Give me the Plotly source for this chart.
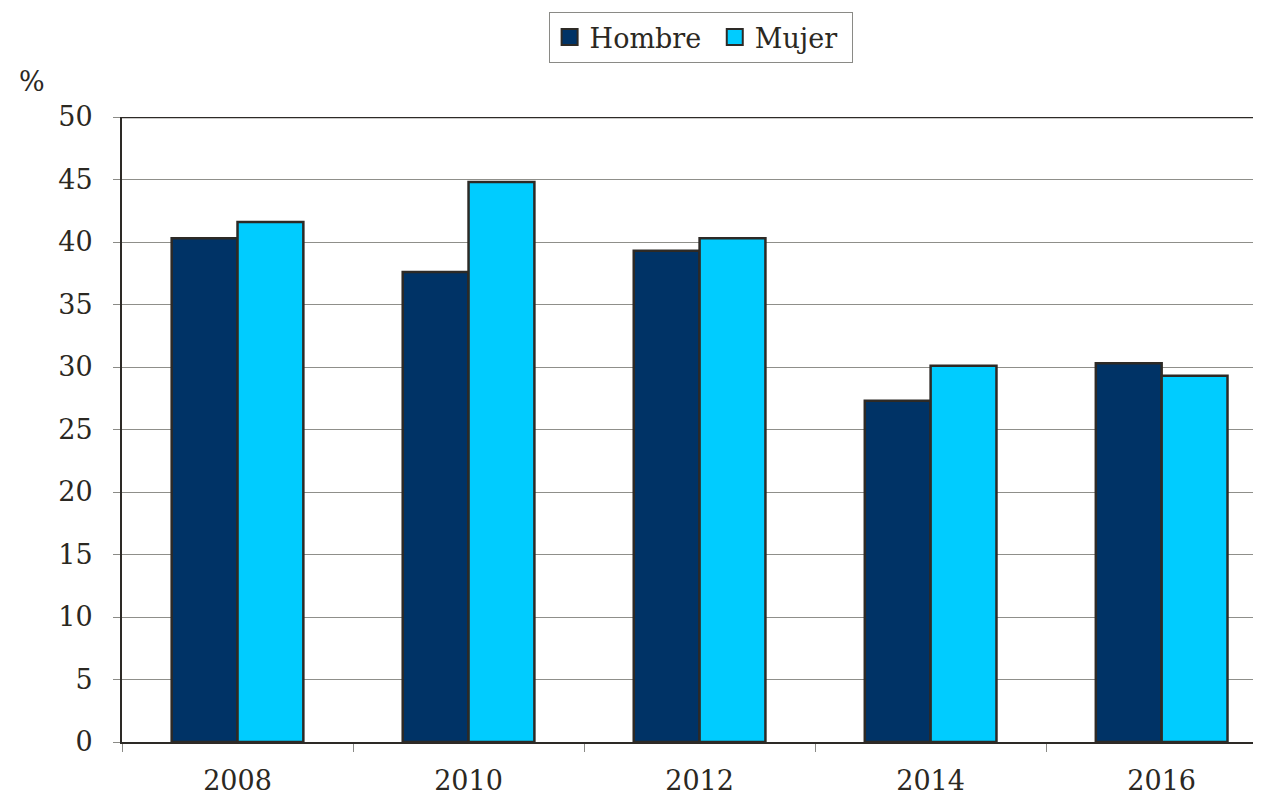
import plotly.graph_objects as go

years = ["2008", "2010", "2012", "2014", "2016"]
hombre = [40.3, 37.6, 39.3, 27.3, 30.3]
mujer = [41.6, 44.8, 40.3, 30.1, 29.3]
series = ["Hombre", "Mujer"]
colors = ["#003366", "#00CCFF"]

FONT = "DejaVu Serif"
FS = 27
TXT = "#2b2822"
EDGE = "#2d2a26"

fig = go.Figure()
for name, vals, col in zip(series, [hombre, mujer], colors):
    fig.add_bar(x=years, y=vals, name=name, showlegend=False,
                marker=dict(color=col, line=dict(color=EDGE, width=2.5)))
for name, col in zip(series, colors):
    fig.add_scatter(x=[years[0]], y=[None], mode="markers", name=name + " ",
                    marker=dict(symbol="square", size=16, color=col, line=dict(color=EDGE, width=2)))

fig.update_layout(
    width=1253, height=790,
    margin=dict(l=114, r=0, t=109, b=56),
    paper_bgcolor="white", plot_bgcolor="white",
    barmode="group", bargap=0.43, bargroupgap=0,
    font=dict(family=FONT, size=FS, color=TXT),
    showlegend=True,
    legend=dict(orientation="h", x=0.508, xanchor="center", y=1.168, yanchor="top",
                bordercolor="#8a8a86", borderwidth=1, bgcolor="white",
                font=dict(family=FONT, size=FS, color=TXT), itemwidth=30, traceorder="normal",
                itemsizing="trace"),
)
fig.update_xaxes(
    type="category", range=[-0.5, 4.43], tickson="boundaries",
    ticks="outside", ticklen=8, tickcolor="#8a8a86", tickwidth=1,
    showline=True, linecolor=EDGE, linewidth=2, showgrid=False,
    tickfont=dict(family=FONT, size=FS, color=TXT), ticklabelstandoff=14,
)
fig.update_yaxes(
    range=[0, 50], dtick=5, ticks="outside", ticklen=7, tickcolor="#8a8a86", tickwidth=1,
    showline=True, linecolor=EDGE, linewidth=2, mirror=False,
    showgrid=True, gridcolor="#8f8f8a", gridwidth=1, zeroline=False,
    tickfont=dict(family=FONT, size=FS, color=TXT), ticklabelstandoff=15,
)
fig.add_shape(type="line", xref="paper", yref="y", x0=0, x1=1, y0=50, y1=50,
              line=dict(color=EDGE, width=2.5))
fig.add_annotation(text="%", xref="paper", yref="paper", x=-0.079, y=1.056,
                   xanchor="center", yanchor="middle", showarrow=False,
                   font=dict(family=FONT, size=FS, color=TXT))
fig.write_html("out.html")
